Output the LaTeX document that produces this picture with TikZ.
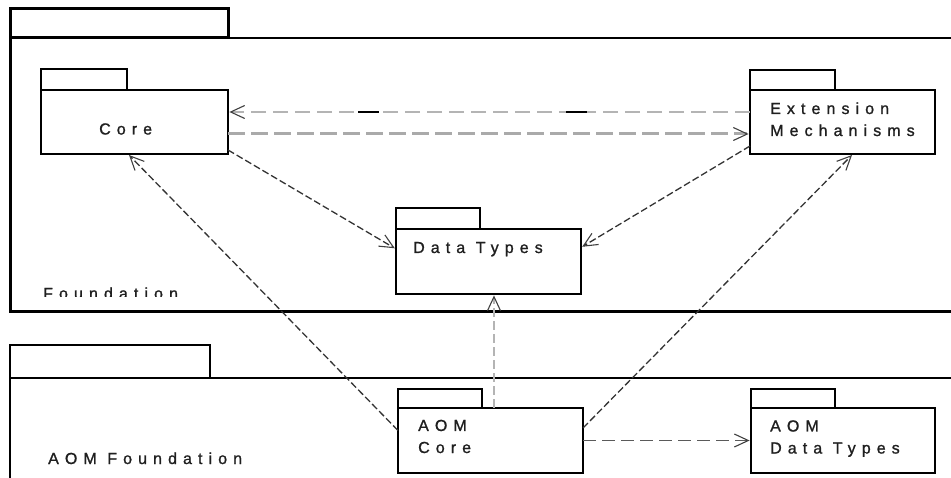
\documentclass[tikz,border=0pt]{standalone}
\usepackage{fontspec}
\setmainfont{Liberation Sans}[LetterSpace=38,FakeBold=1.2]
\usetikzlibrary{arrows.meta,calc}
\definecolor{lgray}{HTML}{B4B4B4}
\definecolor{mgray}{HTML}{AAAAAA}
\definecolor{dgray}{HTML}{333333}
\definecolor{ggray}{HTML}{5A5A5A}
\begin{document}
\begin{tikzpicture}[x=1pt,y=-1pt,line join=miter,
  pkgbody/.style={draw=black, fill=white, line width=2.8pt, inner sep=0pt, outer sep=0pt, rectangle},
  tabbox/.style={draw=black, fill=white, line width=2.4pt},
  lbl/.style={anchor=base west, inner sep=0pt, font=\fontsize{16pt}{19pt}\selectfont, text=black!88},
  tip/.style={-{Straight Barb[length=14pt,width=13pt,line width=1.1pt,color=black!75]}, shorten >=1.4pt},
  thinlink/.style={tip, draw=lgray, line width=1.3pt, dash pattern=on 15pt off 7pt},
  thicklink/.style={tip, draw=mgray, line width=3pt, dash pattern=on 17pt off 6pt},
  darklink/.style={tip, draw=dgray, line width=1.3pt, dash pattern=on 7pt off 3pt},
  vlink/.style={tip, draw=lgray, line width=2pt, dash pattern=on 9pt off 4pt},
  hlink/.style={tip, draw=ggray, line width=1.5pt, dash pattern=on 13pt off 6pt}]
\useasboundingbox (0,0) rectangle (951,478);

% outer package: Foundation
\draw[line width=3pt, fill=white] (10,9) rectangle (228,38);
\draw[line width=1.8pt] (10,38) -- (955,38);
\draw[line width=3pt] (10,38) -- (10,312) -- (955,312);
\begin{scope}
  \clip (0,0) rectangle (951,296.5);
  \node[lbl] (fndL) at (43,299) {Foundation};
\end{scope}

% outer package: AOM Foundation
\draw[line width=2.8pt, fill=white] (10,345) rectangle (210,378);
\draw[line width=2.4pt] (955,378) -- (10,378) -- (10,482);
\node[lbl] (aomfL) at (48,464) {AOM Foundation};

% inner packages
\node[pkgbody, minimum width=187pt, minimum height=64pt] (core) at (134.5,122) {};
\draw[tabbox] (core.north west) rectangle ++(86,-21);
\node[lbl] (coreL) at (99,134.5) {Core};

\node[pkgbody, minimum width=185pt, minimum height=64pt] (ext) at (842.5,122) {};
\draw[tabbox] (ext.north west) rectangle ++(85,-20);
\node[lbl] (extL1) at (770,114) {Extension};
\node[lbl] (extL2) at (770,136) {Mechanisms};

\node[pkgbody, minimum width=185pt, minimum height=65pt] (dt) at (488.5,261.5) {};
\draw[tabbox] (dt.north west) rectangle ++(84,-21);
\node[lbl] (dtL) at (413,253) {Data Types};

\node[pkgbody, minimum width=185pt, minimum height=65pt] (aomcore) at (490.5,440.5) {};
\draw[tabbox] (aomcore.north west) rectangle ++(84,-19);
\node[lbl] (acL1) at (418,431) {AOM};
\node[lbl] (acL2) at (418,453) {Core};

\node[pkgbody, minimum width=184pt, minimum height=65pt] (aomdt) at (843,440.5) {};
\draw[tabbox] (aomdt.north west) rectangle ++(84,-19);
\node[lbl] (adL1) at (770,431.5) {AOM};
\node[lbl] (adL2) at (770,453.5) {Data Types};

% connectors
\draw[thinlink] ([yshift=10pt]ext.west) -- ([yshift=10pt]core.east)
  coordinate[pos=0.312] (k2a) coordinate[pos=0.352] (k2b)
  coordinate[pos=0.711] (k1a) coordinate[pos=0.751] (k1b);
\draw[black, line width=1.5pt] (k1a) -- (k1b);
\draw[black, line width=1.5pt] (k2a) -- (k2b);

\draw[thicklink] ([yshift=-12pt]core.east) -- ([yshift=-12pt]ext.west);

\draw[darklink] ([yshift=4pt]core.south east) -- ([yshift=12.5pt]dt.west);
\draw[darklink] ([yshift=8pt]ext.south west) -- ([yshift=14pt]dt.east);
\draw[darklink] ([yshift=10pt]aomcore.west) -- ([xshift=-6.5pt]core.south);
\draw[darklink] ([yshift=12.5pt]aomcore.east) -- ([xshift=10.5pt]ext.south);

\coordinate (v0) at ([xshift=3.5pt]aomcore.north);
\draw[vlink] (v0) -- (v0 |- dt.south);

\draw[hlink] (aomcore.east) -- (aomdt.west);
\end{tikzpicture}
\end{document}
